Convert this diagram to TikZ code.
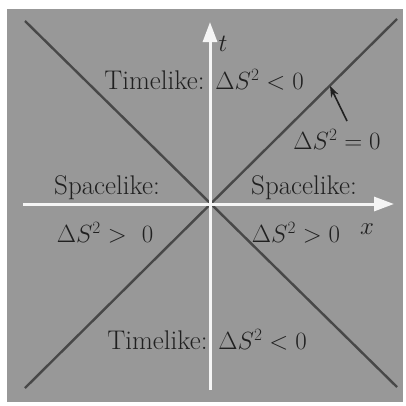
\documentclass[tikz,border=0pt]{standalone}
\usetikzlibrary{arrows.meta}
\definecolor{bggray}{RGB}{152,152,152}
\definecolor{linegray}{RGB}{72,72,72}
\definecolor{txtgray}{RGB}{32,32,32}
\definecolor{axiswhite}{RGB}{245,245,245}
\begin{document}
\begin{tikzpicture}[x=1pt,y=-1pt,
  lbl/.style={text=txtgray,inner sep=0pt,font=\fontsize{27}{31}\selectfont},
  axlbl/.style={text=txtgray,inner sep=0pt,font=\fontsize{23}{27}\selectfont},
  axis/.style={draw=axiswhite,line width=3pt,-{Triangle[length=20pt,width=14pt]}},
  cone/.style={draw=linegray,line width=2.4pt},
  pointer/.style={draw=txtgray,line width=1.6pt,-{Stealth[length=11pt,width=8pt]}}]
\useasboundingbox (0,0) rectangle (406,405);
\fill[white] (0,0) rectangle (406,405);
\fill[bggray] (7,9) rectangle (403,402);
% light cone lines
\coordinate (o) at (210,204);
\coordinate (tl) at (25,21);
\coordinate (br) at (397,387);
\coordinate (tr) at (397,19);
\coordinate (bl) at (25,388);
\draw[cone] (tl) -- (br);
\draw[cone] (tr) -- (bl);
% axes
\coordinate (tb) at (210,390);
\coordinate (tt) at (210,22);
\coordinate (xl) at (23,204);
\coordinate (xr) at (394,204);
\draw[axis] (tb) -- (tt);
\draw[axis] (xl) -- (xr);
% labels
\node[axlbl] (t) at (223,44) {$t$};
\node[axlbl] (x) at (367,229) {$x$};
\node[lbl] (tu) at (204,80) {Timelike: $\Delta S^2 < 0$};
\node[lbl] (td) at (207,340) {Timelike: $\Delta S^2 < 0$};
\node[lbl] (sl) at (107,188) {Spacelike:};
\node[lbl] (sr) at (304,188) {Spacelike:};
\node[lbl] (gl) at (105,233) {$\Delta S^2 >\ 0$};
\node[lbl] (gr) at (296,233) {$\Delta S^2 > 0$};
\node[lbl] (nz) at (337,139) {$\Delta S^2 = 0$};
\coordinate (ps) at (347,121);
\coordinate (pt) at (330,86);
\draw[pointer] (ps) -- (pt);
\end{tikzpicture}
\end{document}
